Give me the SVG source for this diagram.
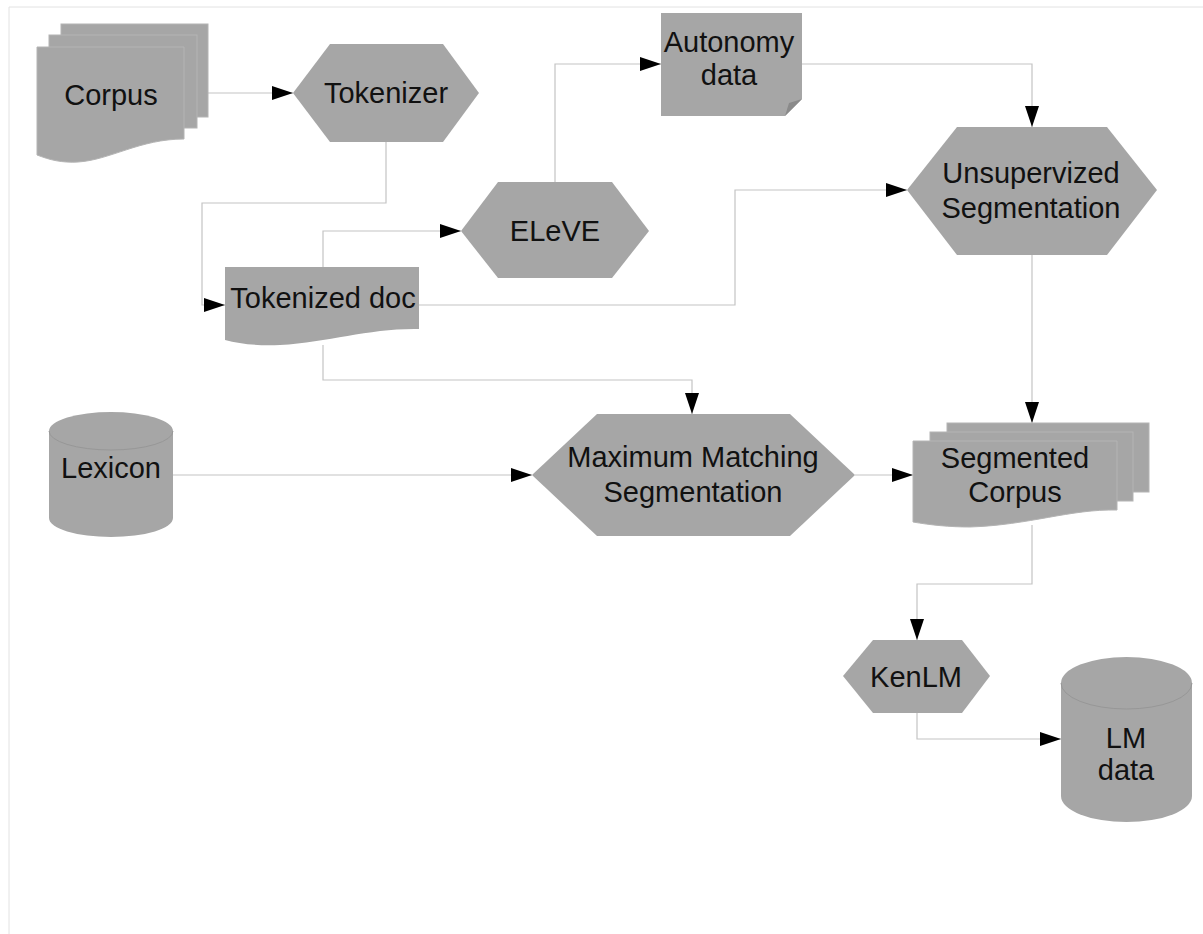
<svg xmlns="http://www.w3.org/2000/svg" width="1203" height="934" viewBox="0 0 1203 934">
<defs>
<style>
.s{fill:#a6a6a6;stroke:none}
.b{fill:#a6a6a6;stroke:#b4b4b4;stroke-width:1}
.e{fill:none;stroke:#979797;stroke-width:1}
.t{font-family:"Liberation Sans",Arial,sans-serif;font-size:29px;fill:#111;text-anchor:middle}
.c{fill:none;stroke:#c4c4c4;stroke-width:1.2}
</style>
<marker id="ah" markerUnits="userSpaceOnUse" markerWidth="22" markerHeight="14" refX="21" refY="7" orient="auto">
<path d="M0,0 L21,7 L0,14 Z" fill="#000"/>
</marker>
</defs>
<rect width="1203" height="934" fill="#fff"/>
<path d="M9,934 V7 H1203" fill="none" stroke="#e2e2e2" stroke-width="1"/>

<g id="connectors">
<path class="c" d="M208,93 H293" marker-end="url(#ah)"/>
<path class="c" d="M386,142 V203 H202 V305 H225" marker-end="url(#ah)"/>
<path class="c" d="M323,267 V231 H461" marker-end="url(#ah)"/>
<path class="c" d="M555,182 V64 H661" marker-end="url(#ah)"/>
<path class="c" d="M802,64 H1032 V127" marker-end="url(#ah)"/>
<path class="c" d="M419,305 H735 V190 H907" marker-end="url(#ah)"/>
<path class="c" d="M1032,255 V423" marker-end="url(#ah)"/>
<path class="c" d="M323,345 V380 H692 V414" marker-end="url(#ah)"/>
<path class="c" d="M173,475 H532" marker-end="url(#ah)"/>
<path class="c" d="M855,475 H913" marker-end="url(#ah)"/>
<path class="c" d="M1032,525 V584 H917 V640" marker-end="url(#ah)"/>
<path class="c" d="M917,713 V739 H1061" marker-end="url(#ah)"/>
</g>

<g id="corpus">
<rect class="b" x="61" y="24" width="147" height="93"/>
<rect class="b" x="49" y="35" width="148" height="93"/>
<path class="b" d="M37,47 H184 V139 C140,139 110,160 78,162 C62,163 50,160 37,155 Z"/>
<text class="t" x="111" y="105">Corpus</text>
</g>

<g id="tokenizer">
<polygon class="s" points="293,93 330,44 443,44 479,93 443,142 330,142"/>
<text class="t" x="386" y="103">Tokenizer</text>
</g>

<g id="tokenized-doc">
<path class="s" d="M225,267 H419 V329 C370,328 330,342 280,345 C258,346 240,344 225,340 Z"/>
<text class="t" x="323" y="308">Tokenized doc</text>
</g>

<g id="eleve">
<polygon class="s" points="461,231 498,182 612,182 649,231 612,278 498,278"/>
<text class="t" x="555" y="241">ELeVE</text>
</g>

<g id="autonomy-data">
<polygon class="s" points="661,13 802,13 802,99 785,116 661,116"/>
<polygon points="802,99 785,116 789,103" fill="#8a8a8a"/>
<text class="t" x="729" y="52">Autonomy</text>
<text class="t" x="729" y="85">data</text>
</g>

<g id="unsupervized-segmentation">
<polygon class="s" points="907,190 957,127 1107,127 1157,190 1107,255 957,255"/>
<text class="t" x="1031" y="183">Unsupervized</text>
<text class="t" x="1031" y="218">Segmentation</text>
</g>

<g id="lexicon">
<path class="s" d="M49,431 A62,19 0 0 1 173,431 V518 A62,19 0 0 1 49,518 Z"/>
<path class="e" d="M49,431 A62,19 0 0 0 173,431"/>
<text class="t" x="111" y="478">Lexicon</text>
</g>

<g id="maximum-matching-segmentation">
<polygon class="s" points="532,475 597,414 790,414 855,475 790,536 597,536"/>
<text class="t" x="693" y="467">Maximum Matching</text>
<text class="t" x="693" y="502">Segmentation</text>
</g>

<g id="segmented-corpus">
<rect class="b" x="947" y="423" width="202" height="69"/>
<rect class="b" x="930" y="432" width="203" height="69"/>
<path class="b" d="M913,441 H1117 V510 C1070,509 1030,525 970,527 C950,527 930,525 913,522 Z"/>
<text class="t" x="1015" y="468">Segmented</text>
<text class="t" x="1015" y="502">Corpus</text>
</g>

<g id="kenlm">
<polygon class="s" points="843,676 873,640 962,640 990,676 962,713 873,713"/>
<text class="t" x="916" y="687">KenLM</text>
</g>

<g id="lm-data">
<path class="s" d="M1061,683 A65.5,26 0 0 1 1192,683 V796 A65.5,26 0 0 1 1061,796 Z"/>
<path class="e" d="M1061,683 A65.5,26 0 0 0 1192,683"/>
<text class="t" x="1126" y="748">LM</text>
<text class="t" x="1126" y="780">data</text>
</g>
</svg>
